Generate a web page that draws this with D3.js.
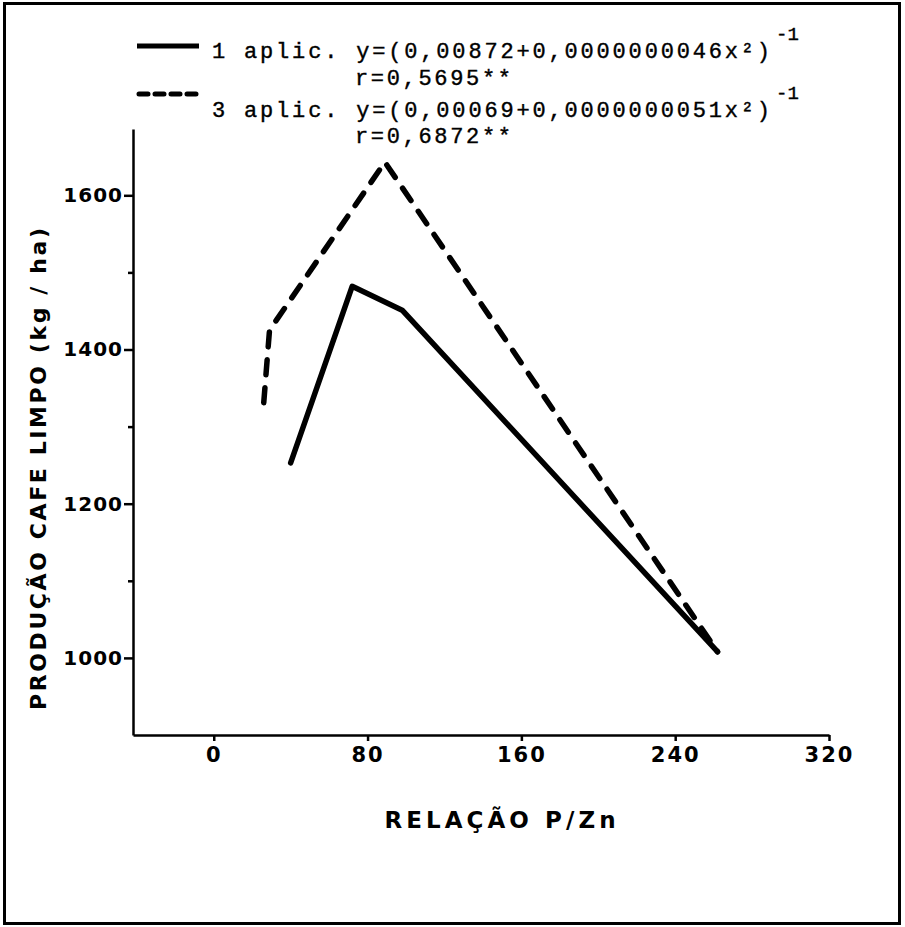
<!DOCTYPE html>
<html>
<head>
<meta charset="utf-8">
<script src="https://cdn.jsdelivr.net/npm/d3@7"></script>
<style>
  html, body { margin: 0; padding: 0; background: #fff; }
  svg { display: block; }
</style>
</head>
<body>
<script>
// ---- Data ----
const seriesNames = ["1 aplic.", "3 aplic."];
const equations = ["y=(0,00872+0,0000000046x²)", "y=(0,00069+0,0000000051x²)"];
const correlations = ["r=0,5695**", "r=0,6872**"];
const oneAplicX = [40, 72, 98, 262];
const oneAplicY = [1253, 1482, 1451, 1008];
const threeAplicX = [26, 29, 89, 262];
const threeAplicY = [1331, 1425, 1643, 1008];
const xTicks = [0, 80, 160, 240, 320];
const yTicks = [1000, 1200, 1400, 1600];
const yMinorTicks = [1100, 1300, 1500];
const xTitle = "RELAÇÃO P/Zn";
const yTitle = "PRODUÇÃO CAFE LIMPO (kg / ha)";

const W = 905, H = 927;
const svg = d3.select("body").append("svg").attr("width", W).attr("height", H);

// frame
svg.append("rect").attr("x", 4.5).attr("y", 3.5).attr("width", 895).attr("height", 920)
  .attr("fill", "none").attr("stroke", "#000").attr("stroke-width", 3);

const x = d3.scaleLinear().domain([-42, 320]).range([133, 829]);
const y = d3.scaleLinear().domain([900, 1686]).range([735, 129]);

const tickFont = "'DejaVu Sans', sans-serif";

// X axis
const gx = svg.append("g").attr("transform", `translate(0,${y(900)})`)
  .call(d3.axisBottom(x).tickValues(xTicks).tickSize(6).tickSizeOuter(0).tickFormat(d3.format("d")));
gx.select(".domain").attr("stroke", "#000").attr("stroke-width", 2.5);
gx.selectAll(".tick line").attr("stroke", "#000").attr("stroke-width", 2.5);
gx.selectAll(".tick text").attr("fill", "#000").attr("font-family", tickFont).attr("font-weight", "bold")
  .attr("font-size", 21).attr("letter-spacing", 2).attr("y", 12).attr("dy", "0.71em");

// Y axis
const gy = svg.append("g").attr("transform", `translate(${x(-42)},0)`)
  .call(d3.axisLeft(y).tickValues(yTicks).tickSize(9).tickSizeOuter(0).tickPadding(1).tickFormat(d3.format("d")));
gy.select(".domain").attr("stroke", "#000").attr("stroke-width", 2.5);
gy.selectAll(".tick line").attr("stroke", "#000").attr("stroke-width", 2.5);
gy.selectAll(".tick text").attr("fill", "#000").attr("font-family", tickFont).attr("font-weight", "bold")
  .attr("font-size", 20).attr("letter-spacing", 1);
const gyMinor = svg.append("g").attr("transform", `translate(${x(-42)},0)`)
  .call(d3.axisLeft(y).tickValues(yMinorTicks).tickSize(5).tickSizeOuter(0).tickFormat(""));
gyMinor.select(".domain").remove();
gyMinor.selectAll(".tick line").attr("stroke", "#000").attr("stroke-width", 2.5);

// Axis titles
svg.append("text").attr("x", 500).attr("y", 828).attr("text-anchor", "middle")
  .attr("font-family", tickFont).attr("font-weight", "bold").attr("font-size", 23)
  .attr("textLength", 231).attr("lengthAdjust", "spacing").text(xTitle);
svg.append("text").attr("transform", "translate(46,469) rotate(-90)").attr("text-anchor", "middle")
  .attr("font-family", tickFont).attr("font-weight", "bold").attr("font-size", 22)
  .attr("textLength", 482).attr("lengthAdjust", "spacing").text(yTitle);

// Lines
const line = d3.line().x(d => x(d[0])).y(d => y(d[1]));
const solidData = oneAplicX.map((v, i) => [v, oneAplicY[i]]);
const dashedData = threeAplicX.map((v, i) => [v, threeAplicY[i]]);

svg.append("path").datum(solidData).attr("d", line).attr("fill", "none")
  .attr("stroke", "#000").attr("stroke-width", 5.5).attr("stroke-linejoin", "round").attr("stroke-linecap", "round");
svg.append("path").datum(dashedData).attr("d", line).attr("fill", "none")
  .attr("stroke", "#000").attr("stroke-width", 5.5).attr("stroke-linejoin", "round").attr("stroke-linecap", "round")
  .attr("stroke-dasharray", "15,13");

// Legend
const monoFont = "'Liberation Mono', 'DejaVu Sans Mono', monospace";
const leg = svg.append("g");
leg.append("line").attr("x1", 137).attr("x2", 199).attr("y1", 46).attr("y2", 46)
  .attr("stroke", "#000").attr("stroke-width", 5);
leg.append("line").attr("x1", 139).attr("x2", 199).attr("y1", 94).attr("y2", 94)
  .attr("stroke", "#000").attr("stroke-width", 5).attr("stroke-linecap", "round").attr("stroke-dasharray", "9,7");

const legRows = [
  { label: seriesNames[0] + " " + equations[0], base: 58, sup: 40, r: correlations[0], rbase: 85 },
  { label: seriesNames[1] + " " + equations[1], base: 117, sup: 99, r: correlations[1], rbase: 143 }
];
legRows.forEach(row => {
  leg.append("text").attr("x", 212).attr("y", row.base).attr("font-family", monoFont)
    .attr("font-size", 22).attr("fill", "#000").attr("stroke", "#000").attr("stroke-width", 0.4)
    .attr("textLength", 558).attr("lengthAdjust", "spacing").text(row.label);
  leg.append("text").attr("x", 776).attr("y", row.sup).attr("font-family", monoFont)
    .attr("font-size", 19).attr("fill", "#000").attr("stroke", "#000").attr("stroke-width", 0.4).text("-1");
  leg.append("text").attr("x", 355).attr("y", row.rbase).attr("font-family", monoFont)
    .attr("font-size", 22).attr("fill", "#000").attr("stroke", "#000").attr("stroke-width", 0.4)
    .attr("textLength", 156).attr("lengthAdjust", "spacing").text(row.r);
});
</script>
</body>
</html>
